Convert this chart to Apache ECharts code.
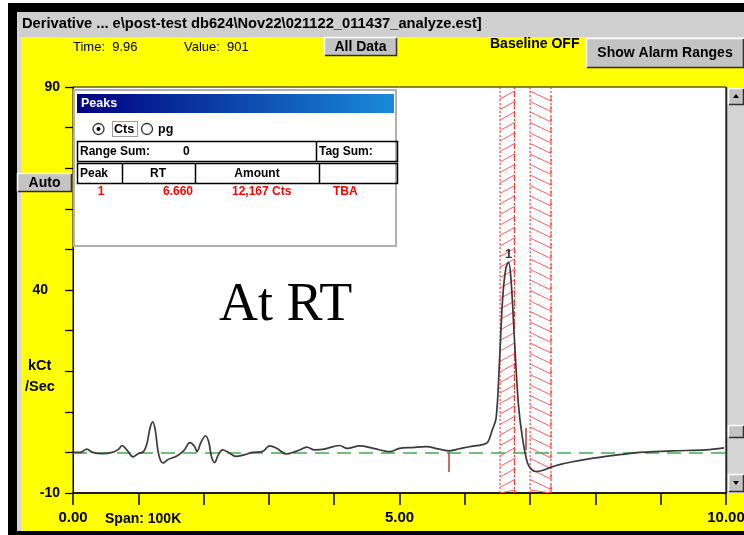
<!DOCTYPE html>
<html>
<head>
<meta charset="utf-8">
<script src="https://cdn.jsdelivr.net/npm/echarts@6/dist/echarts.min.js"></script>
<style>
html,body{margin:0;padding:0;background:#fff;}
#chart{width:744px;height:535px;}
</style>
</head>
<body>
<div id="chart"></div>
<script>
// ---- data ----
const traceTime = [0.00,0.12,0.21,0.30,0.45,0.60,0.70,0.75,0.83,0.92,1.00,1.08,1.13,1.18,1.22,1.26,1.30,1.34,1.38,1.45,1.59,1.70,1.79,1.86,1.90,1.96,2.03,2.08,2.12,2.17,2.22,2.29,2.36,2.50,2.62,2.75,2.90,3.01,3.12,3.27,3.40,3.47,3.58,3.70,3.85,4.08,4.20,4.39,4.60,4.85,5.00,5.20,5.41,5.61,5.76,5.92,6.07,6.27,6.35,6.42,6.48,6.53,6.58,6.63,6.67,6.71,6.76,6.82,6.88,6.96,7.03,7.09,7.20,7.29,7.45,7.65,7.90,8.16,8.40,8.67,9.17,9.69,9.97];
const traceValue = [0.0,0.0,0.8,0.0,-0.3,0.0,0.8,1.7,0.5,-1.1,-0.3,0.2,2.0,6.0,7.5,5.5,0.5,-2.0,-2.6,-1.8,-0.9,0.5,2.4,1.5,0.2,2.5,4.1,2.5,-1.0,-2.5,-0.8,0.6,0.2,-1.0,-0.6,0.0,0.2,1.6,1.0,-0.4,0.2,0.6,1.3,0.6,0.8,1.7,1.0,1.6,1.0,0.2,1.0,1.2,1.4,0.8,0.4,0.9,1.4,1.9,2.5,5.5,8.5,22.0,38.0,45.5,46.8,42.0,28.0,12.0,3.9,-2.6,-4.3,-4.7,-4.4,-3.8,-3.0,-2.3,-1.6,-1.0,-0.5,0.0,0.4,0.6,1.1];
const peakLabelTime = [6.67];
const peakLabelValue = [46.8];
const peakLabelText = ['1'];
const bandStart = [6.54, 7.00];
const bandEnd = [6.76, 7.32];
const bandDir = [1, -1];
const tagMarkTime = [5.76, 6.93];
const tagMarkFrom = [0, 6.0];
const tagMarkTo = [-4.8, 0.6];
const baselineValue = 0;
const xLabelTicks = [0, 5, 10];
const yLabelTicks = [90, 40, -10];
const peakNumbers = ['1'];
const peakRT = ['6.660'];
const peakAmount = ['12,167 Cts'];
const peakTag = ['TBA'];
const rangeSum = '0';
const titleText = 'Derivative ... e\\post-test db624\\Nov22\\021122_011437_analyze.est]';
const timeText = 'Time:  9.96';
const valueText = 'Value:  901';

// ---- helpers ----
const F = '"Liberation Sans", Arial, sans-serif';
function txt(x, y, text, opt) {
  opt = opt || {};
  return {type:'text', x:x, y:y, z:opt.z||120, style:{text:text, font:(opt.bold===false?'':'bold ')+(opt.size||12)+'px '+(opt.family||F), fill:opt.color||'#000', align:opt.align||'left', verticalAlign:'middle'}};
}
function bevel(x, y, w, h, z) {
  return [
    {type:'rect', z:z, shape:{x:x,y:y,width:w,height:h}, style:{fill:'#c3c3c3'}},
    {type:'polyline', z:z+1, shape:{points:[[x+0.5,y+h-0.5],[x+0.5,y+0.5],[x+w-0.5,y+0.5]]}, style:{stroke:'#ffffff', lineWidth:1.5, fill:null}},
    {type:'polyline', z:z+1, shape:{points:[[x+1,y+h-0.5],[x+w-0.5,y+h-0.5],[x+w-0.5,y+1]]}, style:{stroke:'#303030', lineWidth:1.5, fill:null}}
  ];
}
function button(x, y, w, h, text, size) {
  return bevel(x, y, w, h, 110).concat([txt(x+w/2, y+h/2+0.5, text, {size:size, align:'center', z:115})]);
}
function tri(cx, cy, up) {
  const s = 3;
  return {type:'polygon', z:115, shape:{points: up ? [[cx-s,cy+2],[cx+s,cy+2],[cx,cy-2]] : [[cx-s,cy-2],[cx+s,cy-2],[cx,cy+2]]}, style:{fill:'#000'}};
}

// ---- chrome graphics ----
const g = [];
// outer frame (behind chart)
g.push({type:'rect', z:-30, shape:{x:8,y:3,width:736,height:532}, style:{fill:'#000'}});
g.push({type:'rect', z:-29, shape:{x:17,y:12,width:727,height:519}, style:{fill:'#d6d6d6'}});
g.push({type:'rect', z:-28, shape:{x:21,y:37,width:723,height:494}, style:{fill:'#ffff00'}});
g.push({type:'rect', z:-28, shape:{x:19,y:12,width:725,height:25}, style:{fill:'#cfcfcf'}});
g.push(txt(22, 24, titleText, {size:14.7}));
g.push(txt(73, 47, timeText, {bold:false, size:13}));
g.push(txt(184, 47, valueText, {bold:false, size:13}));
button(324, 37, 73, 19, 'All Data', 14).forEach(e=>g.push(e));
g.push(txt(490, 44, 'Baseline OFF', {size:14}));
button(586, 38, 158, 30, 'Show Alarm Ranges', 14).forEach(e=>g.push(e));
button(17, 173, 55, 19, 'Auto', 14).forEach(e=>g.push(e));
g.push(txt(28, 366, 'kCt', {size:14.5}));
g.push(txt(25, 387, '/Sec', {size:14.5}));
g.push(txt(105, 519, 'Span: 100K', {size:14}));
// scrollbar
g.push({type:'rect', z:105, shape:{x:727,y:87,width:17,height:406}, style:{fill:'#d4d4d4'}});
g.push({type:'line', z:106, shape:{x1:726.5,y1:87,x2:726.5,y2:493}, style:{stroke:'#202020', lineWidth:1.5}});
bevel(728, 88, 16, 17, 108).forEach(e=>g.push(e));
g.push(tri(736, 96, true));
bevel(728, 474, 16, 18, 108).forEach(e=>g.push(e));
g.push(tri(736, 483, false));
bevel(728, 425, 16, 13, 108).forEach(e=>g.push(e));

// Peaks panel
const P = 120;
g.push({type:'rect', z:P, shape:{x:74,y:90,width:322,height:156}, style:{fill:'#ffffff', stroke:'#b0b0b0', lineWidth:2}});
g.push({type:'rect', z:P+1, shape:{x:77,y:94,width:317,height:19}, style:{fill:{type:'linear',x:0,y:0,x2:1,y2:0,colorStops:[{offset:0,color:'#000080'},{offset:1,color:'#1a8ad8'}]}}});
g.push(txt(81, 104, 'Peaks', {size:12.5, color:'#ffffff', z:P+2}));
g.push({type:'circle', z:P+1, shape:{cx:98.5,cy:129,r:5.5}, style:{fill:'#fff', stroke:'#303030', lineWidth:1.3}});
g.push({type:'circle', z:P+2, shape:{cx:98.5,cy:129,r:2}, style:{fill:'#000'}});
g.push({type:'rect', z:P+1, shape:{x:112.5,y:121.5,width:25,height:15}, style:{fill:null, stroke:'#404040', lineWidth:1, lineDash:[1,1]}});
g.push(txt(114, 129.5, 'Cts', {size:12.5, z:P+2}));
g.push({type:'circle', z:P+1, shape:{cx:147,cy:129,r:5.5}, style:{fill:'#fff', stroke:'#303030', lineWidth:1.3}});
g.push(txt(158, 130, 'pg', {size:12.5, z:P+2}));
g.push({type:'rect', z:P+1, shape:{x:77.5,y:141.5,width:320,height:20}, style:{fill:null, stroke:'#000', lineWidth:1.5}});
g.push({type:'line', z:P+1, shape:{x1:316.5,y1:141,x2:316.5,y2:162}, style:{stroke:'#000', lineWidth:1.5}});
g.push(txt(80, 151.5, 'Range Sum:', {z:P+2}));
g.push(txt(183, 151.5, rangeSum, {z:P+2}));
g.push(txt(319, 151.5, 'Tag Sum:', {z:P+2}));
g.push({type:'rect', z:P+1, shape:{x:77.5,y:163.5,width:320,height:20}, style:{fill:null, stroke:'#000', lineWidth:1.5}});
[122.5, 195.5, 319.5].forEach(x=>g.push({type:'line', z:P+1, shape:{x1:x,y1:163,x2:x,y2:184}, style:{stroke:'#000', lineWidth:1.5}}));
g.push(txt(80, 173.5, 'Peak', {z:P+2}));
g.push(txt(158, 173.5, 'RT', {z:P+2, align:'center'}));
g.push(txt(257, 173.5, 'Amount', {z:P+2, align:'center'}));
peakNumbers.forEach((n,i)=>{
  const y = 192 + i*16;
  g.push(txt(101, y, n, {z:P+2, color:'#ff0000', align:'center'}));
  g.push(txt(193, y, peakRT[i], {z:P+2, color:'#ff0000', align:'right'}));
  g.push(txt(232, y, peakAmount[i], {z:P+2, color:'#ff0000'}));
  g.push(txt(333, y, peakTag[i], {z:P+2, color:'#ff0000'}));
});
// annotation
g.push({type:'text', x:219, y:306, z:60, style:{text:'At RT', font:'54px "Liberation Serif", "Times New Roman", serif', fill:'#000', align:'left', verticalAlign:'middle'}});

// ---- chart ----
const chart = echarts.init(document.getElementById('chart'), null, {renderer:'canvas'});
const lineData = traceTime.map((t,i)=>[t, traceValue[i]]);
const bandData = bandStart.map((s,i)=>[s, bandEnd[i], bandDir[i]]);
const tagData = tagMarkTime.map((t,i)=>[{coord:[t, tagMarkFrom[i]]},{coord:[t, tagMarkTo[i]]}]);

function renderBand(params, api) {
  const x0 = api.coord([api.value(0), 90])[0];
  const x1 = api.coord([api.value(1), 90])[0];
  const yTop = api.coord([0, 90])[1];
  const yBot = api.coord([0, -10])[1];
  const dir = api.value(2);
  const h = dir > 0 ? 8 : 10;
  const kids = [];
  [x0, x1].forEach(x=>kids.push({type:'line', shape:{x1:x,y1:yTop,x2:x,y2:yBot}, style:{stroke:'#ff1a1a', lineWidth:1, lineDash:[2,2]}}));
  for (let y = yTop + 4; y < yBot - 2; y += 10.5) {
    const yb = Math.min(y + h, yBot);
    if (dir > 0) {
      kids.push({type:'line', shape:{x1:x0,y1:yb,x2:x1,y2:y}, style:{stroke:'#ff5c5c', lineWidth:1}});
      kids.push({type:'line', shape:{x1:x1,y1:y,x2:x1,y2:Math.min(y+5,yBot)}, style:{stroke:'#ff3030', lineWidth:1}});
    } else {
      kids.push({type:'line', shape:{x1:x0,y1:y,x2:x1,y2:yb}, style:{stroke:'#ff5c5c', lineWidth:1}});
      kids.push({type:'line', shape:{x1:x1,y1:Math.max(yb-5,yTop),x2:x1,y2:yb}, style:{stroke:'#ff3030', lineWidth:1}});
    }
  }
  return {type:'group', children:kids};
}

const option = {
  animation:false,
  backgroundColor:'#ffffff',
  grid:{left:73, right:18, top:87, bottom:42, show:true, backgroundColor:'#ffffff', borderColor:'#000', borderWidth:1,
    containLabel:false, outerBoundsMode:'none'},
  xAxis:{
    type:'value', min:0, max:10, interval:1,
    axisLine:{show:true, onZero:false, lineStyle:{color:'#000', width:1.5}},
    axisTick:{show:true, length:12, lineStyle:{color:'#000', width:1.5}},
    splitLine:{show:false},
    axisLabel:{show:true, margin:17, color:'#000', fontWeight:'bold', fontSize:15, fontFamily:'Liberation Sans',
      showMaxLabel:true, showMinLabel:true,
      formatter:v=> xLabelTicks.indexOf(v) >= 0 ? v.toFixed(2) : ''}
  },
  yAxis:{
    type:'value', min:-10, max:90, interval:10,
    axisLine:{show:true, lineStyle:{color:'#000', width:1}},
    axisTick:{show:true, length:8, lineStyle:{color:'#000', width:1.3}},
    splitLine:{show:false},
    axisLabel:{show:true, margin:13, color:'#000', fontWeight:'bold', fontSize:14, fontFamily:'Liberation Sans',
      formatter:v=> yLabelTicks.indexOf(v) >= 0 ? (v===40 ? '{m|'+v+'}' : String(v)) : '',
      rich:{m:{fontWeight:'bold', fontSize:14, fontFamily:'Liberation Sans', color:'#000', padding:[0,12,0,0]}}}
  },
  series:[
    {type:'custom', renderItem:renderBand, data:bandData, z:1, silent:true, clip:true},
    {type:'line', data:lineData, smooth:0.35, symbol:'none', z:5,
      lineStyle:{color:'#3a3a3a', width:1.7},
      markLine:{silent:true, symbol:'none', label:{show:false}, animation:false,
        data:[{yAxis:baselineValue, lineStyle:{color:'#3cae4c', type:[14,8], width:1.5}}].concat(
          tagData.map(d=>{d[0].lineStyle={color:'#b83838', type:'solid', width:1.5}; return d;}))
      }
    },
    {type:'scatter', data:peakLabelTime.map((t,i)=>[t, peakLabelValue[i], peakLabelText[i]]), symbolSize:0, z:6, silent:true,
      label:{show:true, position:'top', distance:1, formatter:p=>p.value[2], color:'#000', fontWeight:'bold', fontSize:13, fontFamily:'Liberation Sans'}}
  ],
  graphic:g
};
chart.setOption(option);
</script>
</body>
</html>
